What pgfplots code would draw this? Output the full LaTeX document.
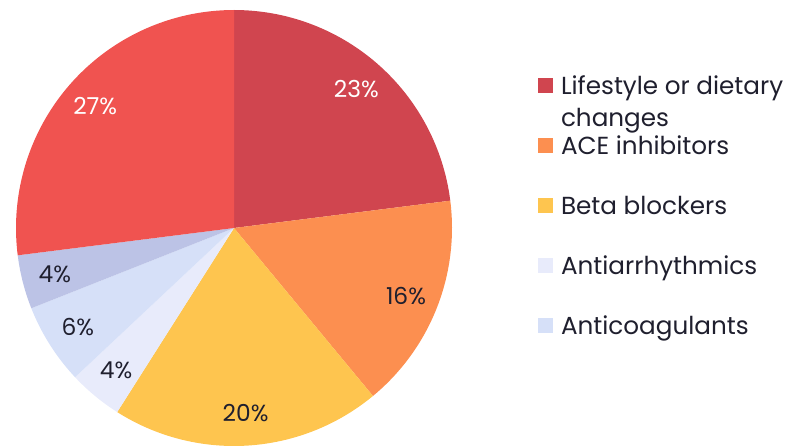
\documentclass[border=0pt]{standalone}
\usepackage{fontspec}
\setmainfont{Poppins}
\usepackage{pgfplots}
\pgfplotsset{compat=1.18}

\definecolor{cLife}{HTML}{D0454F}
\definecolor{cAce}{HTML}{FC8F50}
\definecolor{cBeta}{HTML}{FEC54F}
\definecolor{cArr}{HTML}{E8EBFB}
\definecolor{cCoag}{HTML}{D6E0F8}
\definecolor{cSix}{HTML}{BCC3E6}
\definecolor{cSeven}{HTML}{F05350}
\definecolor{txt}{HTML}{1F1F2E}

% pie centre and radius, in pixel units of the axis
\def\cx{234}\def\cy{218}\def\rr{218}\def\rl{185}
\def\startangle{90}
% #1 percent, #2 fill, #3 label colour, #4 extra plot options
\newcommand{\pieslice}[4]{%
  \pgfmathsetmacro\sa{\startangle}%
  \pgfmathsetmacro\ea{\startangle-3.6*#1}%
  \pgfmathsetmacro\ma{(\sa+\ea)/2}%
  \pgfmathsetmacro\lx{\cx+\rl*cos(\ma)}%
  \pgfmathsetmacro\ly{\cy+\rl*sin(\ma)}%
  \edef\next{%
    \noexpand\addplot[fill=#2, draw=none, domain=\ea:\sa, samples=90, #4]
      ({\cx+\rr*cos(x)},{\cy+\rr*sin(x)}) -- (axis cs:\cx,\cy) -- cycle;
    \noexpand\node[text=#3, font=\noexpand\fontsize{17.5}{20}\noexpand\selectfont]
      at (axis cs:\lx,\ly) {#1\noexpand\%};
  }%
  \next
  \global\let\startangle\ea
}

\begin{document}
\begin{tikzpicture}
\begin{axis}[
  width=588.75pt, height=334.5pt, scale only axis,
  xmin=0, xmax=785, ymin=0, ymax=446,
  hide axis, clip=false,
  legend style={draw=none, fill=none, at={(538/785,370/446)}, anchor=north west,
    font=\fontsize{18.5}{20}\selectfont, text=txt,
    row sep=31pt, inner sep=0pt, outer sep=0pt,
    nodes={inner sep=0pt, text depth=0pt}},
  legend cell align=left,
  legend image code/.code={\fill[#1] (0pt,-5.5pt) rectangle (11.25pt,5.75pt);
    \path (17.25pt,0pt);},
]
\pieslice{23}{cLife}{white}{}
\addlegendentry{\makebox[0pt][l]{\smash{\raisebox{-24pt}{changes}}}Lifestyle or dietary}
\pieslice{16}{cAce}{txt}{}
\addlegendentry{ACE inhibitors}
\pieslice{20}{cBeta}{txt}{}
\addlegendentry{Beta blockers}
\pieslice{4}{cArr}{txt}{}
\addlegendentry{Antiarrhythmics}
\pieslice{6}{cCoag}{txt}{}
\addlegendentry{Anticoagulants}
\pieslice{4}{cSix}{txt}{forget plot}
\pieslice{27}{cSeven}{white}{forget plot}
\end{axis}
\path (current axis.south west) rectangle (current axis.north east);
\end{tikzpicture}
\end{document}
